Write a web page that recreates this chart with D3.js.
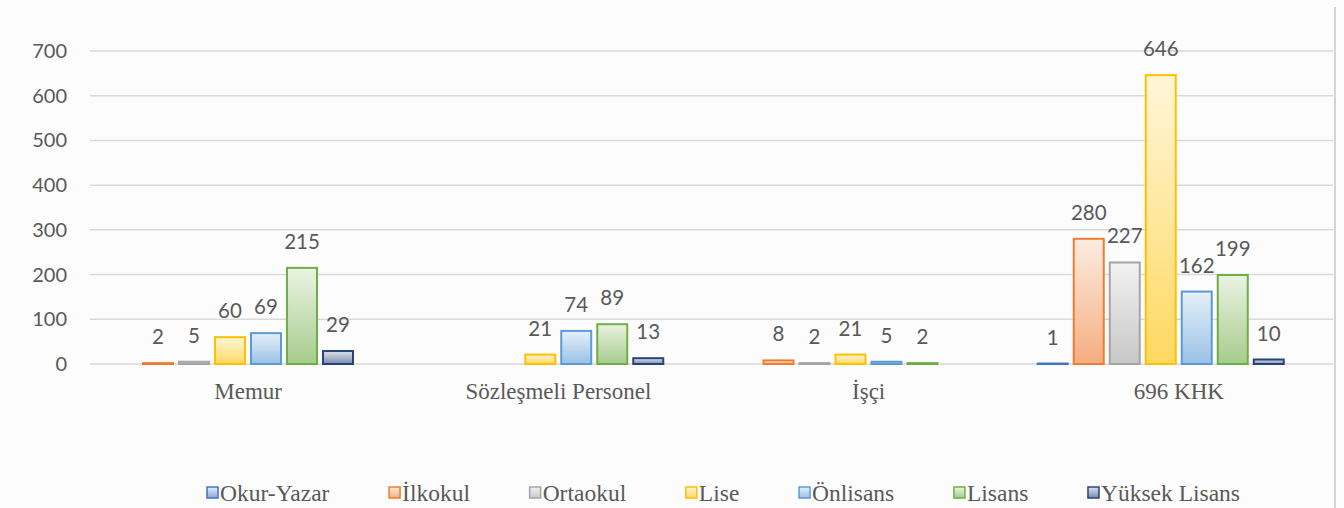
<!DOCTYPE html>
<html>
<head>
<meta charset="utf-8">
<script src="https://cdn.jsdelivr.net/npm/d3@7"></script>
<style>
  body { margin: 0; background: #ffffff; }
  #chart { width: 1344px; height: 508px; }
</style>
</head>
<body>
<div id="chart"></div>
<script>
// categories + series (null = no bar shown)
const categories = ['Memur', 'Sözleşmeli Personel', 'İşçi', '696 KHK'];
const seriesNames = ['Okur-Yazar', 'İlkokul', 'Ortaokul', 'Lise', 'Önlisans', 'Lisans', 'Yüksek Lisans'];
const seriesColors = ['#4472C4', '#ED7D31', '#A5A5A5', '#FFC000', '#5B9BD5', '#70AD47', '#264478'];

const okurYazar    = [null, null, null, 1];
const ilkokul      = [2, null, 8, 280];
const ortaokul     = [5, null, 2, 227];
const lise         = [60, 21, 21, 646];
const onlisans     = [69, 74, 5, 162];
const lisans       = [215, 89, 2, 199];
const yuksekLisans = [29, 13, null, 10];

const seriesValues = [okurYazar, ilkokul, ortaokul, lise, onlisans, lisans, yuksekLisans];
const yTicks = [0, 100, 200, 300, 400, 500, 600, 700];

const width = 1344, height = 508;
const sansFont = 'Lato, "Open Sans", sans-serif';
const serifFont = '"Liberation Serif", "Times New Roman", serif';
const textGray = '#595959';

const svg = d3.select('#chart').append('svg')
  .attr('width', width).attr('height', height);

// background + right frame edge
svg.append('rect').attr('width', width).attr('height', height).attr('fill', '#fcfcfc');
svg.append('line')
  .attr('x1', 1335).attr('x2', 1335).attr('y1', 7).attr('y2', height)
  .attr('stroke', '#c8c8c8').attr('stroke-width', 1.5);

// gradients, light at top -> stronger at bottom
const defs = svg.append('defs');
seriesColors.forEach((c, i) => {
  const g = defs.append('linearGradient').attr('id', 'grad' + i)
    .attr('x1', 0).attr('y1', 0).attr('x2', 0).attr('y2', 1);
  g.append('stop').attr('offset', '0%').attr('stop-color', d3.interpolateRgb(c, '#ffffff')(0.85));
  g.append('stop').attr('offset', '100%').attr('stop-color', d3.interpolateRgb(c, '#ffffff')(0.38));
});

// scales
const y = d3.scaleLinear().domain([0, 700]).range([364, 51]);
const x = d3.scaleBand().domain(categories).range([75, 1316]);
const x1 = d3.scaleBand().domain(seriesNames)
  .range([29, 281]).paddingInner(0.167).paddingOuter(0.083);

// gridlines + y tick labels
const grid = svg.append('g');
grid.selectAll('line').data(yTicks).enter().append('line')
  .attr('x1', 90).attr('x2', 1333)
  .attr('y1', d => y(d)).attr('y2', d => y(d))
  .attr('stroke', '#d9d9d9').attr('stroke-width', 1.5);
grid.selectAll('text').data(yTicks).enter().append('text')
  .attr('x', 67).attr('y', d => y(d) + 7)
  .attr('text-anchor', 'end')
  .attr('font-family', sansFont).attr('font-size', 20).attr('fill', textGray)
  .text(d => d);

// flatten into bar records
const bars = [];
categories.forEach((cat, ci) => {
  seriesNames.forEach((s, si) => {
    const v = seriesValues[si][ci];
    if (v != null) bars.push({ cat, s, si, v });
  });
});

const barG = svg.append('g');
barG.selectAll('rect').data(bars).enter().append('rect')
  .attr('x', d => x(d.cat) + x1(d.s))
  .attr('y', d => y(d.v))
  .attr('width', x1.bandwidth())
  .attr('height', d => Math.max(0, y(0) - y(d.v)))
  .attr('fill', d => `url(#grad${d.si})`)
  .attr('stroke', d => seriesColors[d.si])
  .attr('stroke-width', 2);

// value labels
barG.selectAll('text').data(bars).enter().append('text')
  .attr('x', d => x(d.cat) + x1(d.s) + x1.bandwidth() / 2)
  .attr('y', d => y(d.v) - 19)
  .attr('text-anchor', 'middle')
  .attr('font-family', sansFont).attr('font-size', 20.5).attr('fill', textGray)
  .text(d => d.v);

// category labels (sit a little right of the bar groups, like the source)
const labelShift = 18;
svg.append('g').selectAll('text').data(categories).enter().append('text')
  .attr('x', d => x(d) + x.bandwidth() / 2 + labelShift)
  .attr('y', 399)
  .attr('text-anchor', 'middle')
  .attr('font-family', serifFont).attr('font-size', 23).attr('fill', textGray)
  .text(d => d);

// legend: one row, items laid out left to right
const legG = svg.append('g')
  .attr('font-family', serifFont).attr('font-size', 23.5).attr('fill', textGray);
const sq = 11;
const legLeft = 207, legRight = 1240;
const items = seriesNames.map((name, i) => ({ name, i, w: 0 }));
const legTexts = legG.selectAll('text').data(items).enter().append('text')
  .attr('y', 501)
  .text(d => d.name);
legTexts.each(function (d) { d.w = this.getComputedTextLength(); });
const used = d3.sum(items, d => d.w + sq + 2);
const gap = (legRight - legLeft - used) / (items.length - 1);
let cx = legLeft;
items.forEach(d => { d.x = cx; cx += sq + 2 + d.w + gap; });
legTexts.attr('x', d => d.x + sq + 2);
legG.selectAll('rect').data(items).enter().append('rect')
  .attr('x', d => d.x).attr('y', 487)
  .attr('width', sq).attr('height', sq)
  .attr('fill', d => `url(#grad${d.i})`)
  .attr('stroke', d => seriesColors[d.i]).attr('stroke-width', 1.5);
</script>
</body>
</html>
